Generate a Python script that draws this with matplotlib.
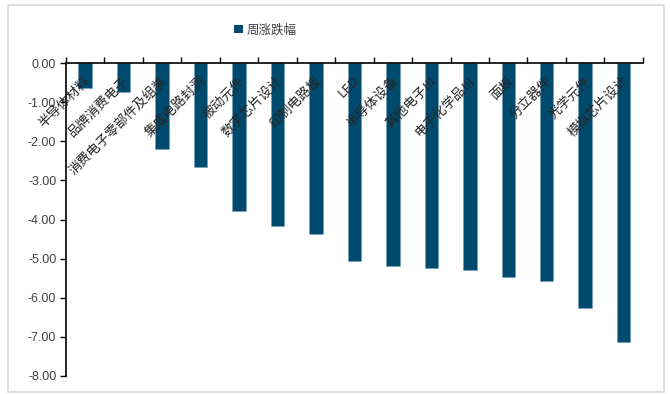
import matplotlib
matplotlib.use("Agg")
import matplotlib.pyplot as plt
from matplotlib.patches import Rectangle, Patch
import numpy as np

plt.rcParams['font.family'] = ['Noto Sans CJK SC', 'DejaVu Sans']

# 行业周涨跌幅（%）
industries = ['半导体材料', '品牌消费电子', '消费电子零部件及组装', '集成电路封测', '被动元件',
              '数字芯片设计', '印制电路板', 'LED', '半导体设备', '其他电子Ⅲ',
              '电子化学品Ⅲ', '面板', '分立器件', '光学元件', '模拟芯片设计']
weekly_change = [-0.65, -0.75, -2.21, -2.65, -3.78, -4.16, -4.36, -5.07, -5.20, -5.25,
                 -5.28, -5.47, -5.58, -6.25, -7.14]
y_ticks = [0, -1, -2, -3, -4, -5, -6, -7, -8]

bar_color = '#004a6e'

fig = plt.figure(figsize=(6.7, 3.94), dpi=100)
ax = fig.add_axes([0.0985, 0.0457, 0.861, 0.7943])

x = np.arange(len(industries))
ax.bar(x, weekly_change, width=0.35, color=bar_color, edgecolor='#6f9fbf', linewidth=0.4)

ax.set_xlim(-0.5, len(industries) - 0.5)
ax.set_ylim(-8, 0)

# 横轴放在顶部（零线），刻度在类别边界
ax.xaxis.tick_top()
ax.set_xticks(np.arange(-0.5, len(industries), 1.0))
ax.set_xticklabels([])
ax.tick_params(axis='x', direction='out', length=4, width=1, color='black')
ax.set_yticks(y_ticks)
ax.set_yticklabels([f'{v:.2f}' for v in y_ticks], fontsize=9, color='#404040',
                   family=['Liberation Sans', 'DejaVu Sans'])
ax.tick_params(axis='y', direction='out', length=4, width=1, color='black', pad=3)

for s in ['right', 'bottom']:
    ax.spines[s].set_visible(False)
ax.spines['top'].set_linewidth(1.2)
ax.spines['left'].set_linewidth(1.2)

# 斜向类别标签，压在柱子上方
for i, name in enumerate(industries):
    ax.annotate(name, xy=(i, 0), xytext=(-1, -8), textcoords='offset points',
                rotation=45, rotation_mode='anchor', ha='right', va='top',
                fontsize=9.5, color='#262626', zorder=5)

fig.legend(handles=[Patch(facecolor=bar_color, label='周涨跌幅')],
           loc='center', bbox_to_anchor=(0.396, 0.924), frameon=False,
           fontsize=9, handlelength=0.7, handleheight=0.7, handletextpad=0.3,
           labelcolor='#404040')

fig.patches.append(Rectangle((8 / 670, 2 / 394), 656 / 670, 387 / 394,
                             transform=fig.transFigure, fill=False,
                             edgecolor='#d9d9d9', linewidth=1.2))

fig.savefig('out.png', dpi=100)
